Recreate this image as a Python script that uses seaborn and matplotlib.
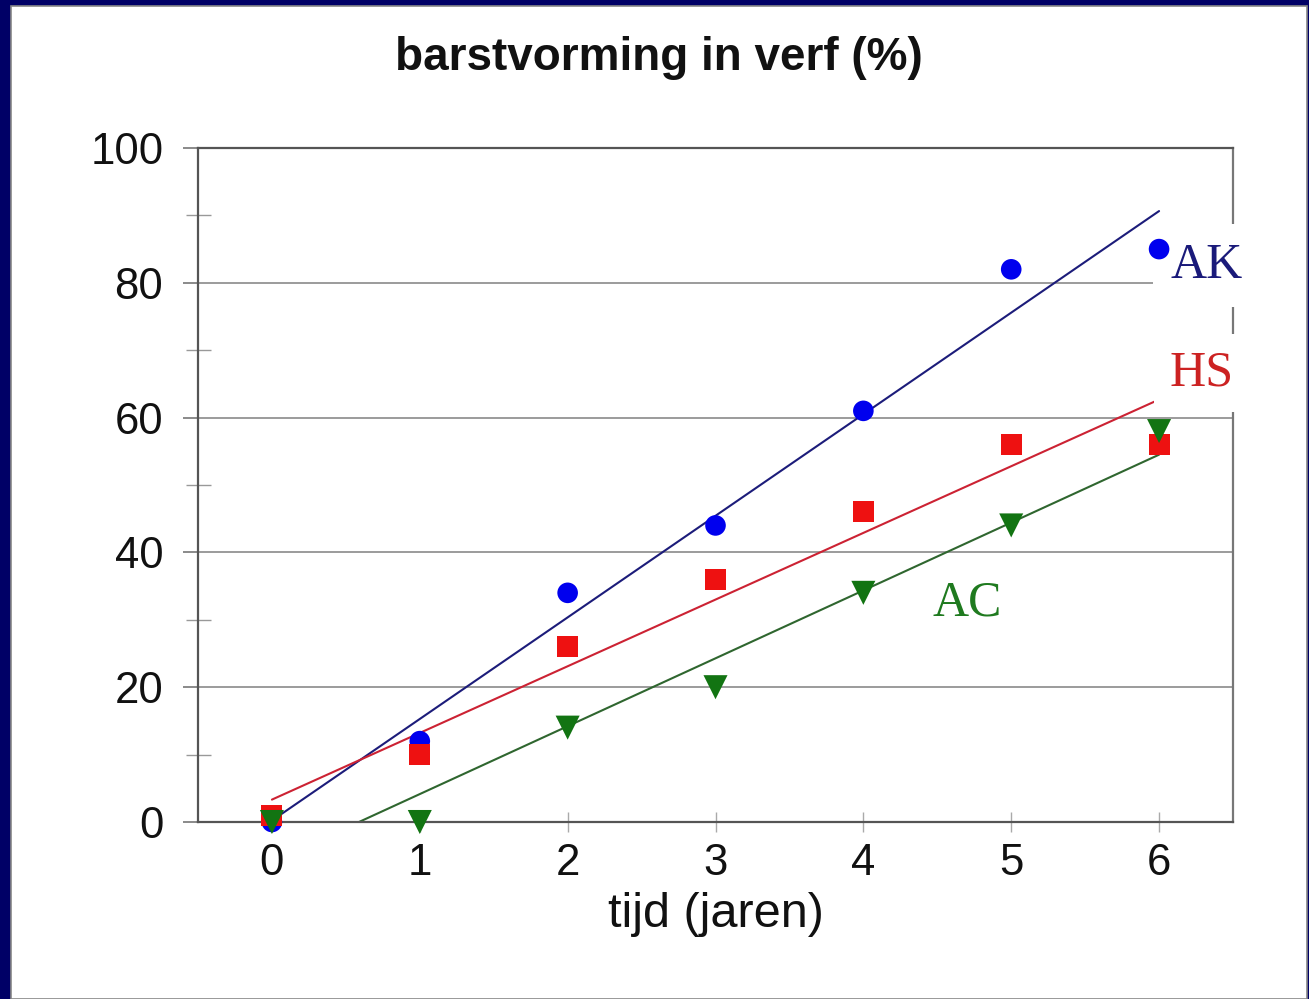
import numpy as np
import pandas as pd
import matplotlib.pyplot as plt
import seaborn as sns
from matplotlib.patches import Rectangle
from matplotlib.ticker import MultipleLocator

# data
years = [0, 1, 2, 3, 4, 5, 6]
ak = [0, 12, 34, 44, 61, 82, 85]
hs = [1, 10, 26, 36, 46, 56, 56]
ac = [0, 0, 14, 20, 34, 44, 58]

series = [
    ("AK", ak, "o", "#0000ee", "#1c1c7a", 220),
    ("HS", hs, "s", "#ee1111", "#cc2233", 230),
    ("AC", ac, "v", "#127412", "#2f662f", 300),
]

sns.set_theme(style="white")
plt.rcParams["font.family"] = ["Liberation Sans", "DejaVu Sans"]

fig = plt.figure(figsize=(13.09, 9.99), dpi=100, facecolor="#000066")
# white slide panel inside the navy frame
fig.patches.append(Rectangle((11 / 1309, 0), 1296 / 1309, 993 / 999, transform=fig.transFigure,
                             facecolor="white", edgecolor="#888888", linewidth=1.2, zorder=-5))

ax = fig.add_axes([198 / 1309, 1 - 822 / 999, 1035 / 1309, 674 / 999])
ax.set_zorder(5)
ax.set_facecolor("white")

# regression lines first, markers on top
for name, vals, mk, mcol, lcol, s in series:
    sns.regplot(x=years, y=vals, ax=ax, ci=None, scatter=False, truncate=True,
                line_kws=dict(color=lcol, linewidth=1.5, zorder=2))
for name, vals, mk, mcol, lcol, s in series:
    sns.scatterplot(x=years, y=vals, ax=ax, marker=mk, color=mcol, s=s,
                    edgecolor="none", zorder=3, clip_on=False)

ax.set_xlim(-0.5, 6.5)
ax.set_ylim(0, 100)
ax.set_xticks(years)
ax.set_yticks([0, 20, 40, 60, 80, 100])
ax.yaxis.set_minor_locator(MultipleLocator(10))

ax.grid(axis="y", which="major", color="#8a8a8a", linewidth=1.2)
ax.grid(axis="x", visible=False)
for side in ["left", "bottom", "top", "right"]:
    ax.spines[side].set_color("#555555")
    ax.spines[side].set_linewidth(1.6)
ax.spines["right"].set_color("#777777")

ax.tick_params(axis="y", which="major", direction="out", length=11, width=1.2,
               color="#777777", labelsize=31.5, labelcolor="#111111", pad=14, left=True)
ax.tick_params(axis="y", which="minor", direction="inout", length=18, width=1.0,
               color="#999999", left=True)
ax.tick_params(axis="x", which="major", direction="inout", length=14, width=1.0,
               color="#aaaaaa", labelsize=31.5, labelcolor="#111111", pad=8, bottom=True)

ax.set_xlabel("tijd (jaren)", fontsize=35, color="#111111", labelpad=6)
ax.set_ylabel("")

fig.text(659 / 1309, 1 - 58 / 999, "barstvorming in verf (%)", ha="center", va="center",
         fontsize=33, fontweight="bold", color="#111111")

# series labels (above the spines, below the markers)
lab_kw = dict(family=["Liberation Serif", "DejaVu Serif"], fontsize=36, ha="left", va="center",
              clip_on=False, zorder=2.7)
ax.text(6.08, 82.6, "AK", color="#1a1a7a",
        bbox=dict(facecolor="white", edgecolor="none", pad=13), **lab_kw)
ax.text(6.07, 66.6, "HS", color="#cc2222",
        bbox=dict(facecolor="white", edgecolor="none", pad=11), **lab_kw)
ax.text(4.47, 32.5, "AC", color="#1f7a1f", **lab_kw)

fig.savefig("out.png", dpi=100, facecolor=fig.get_facecolor())
